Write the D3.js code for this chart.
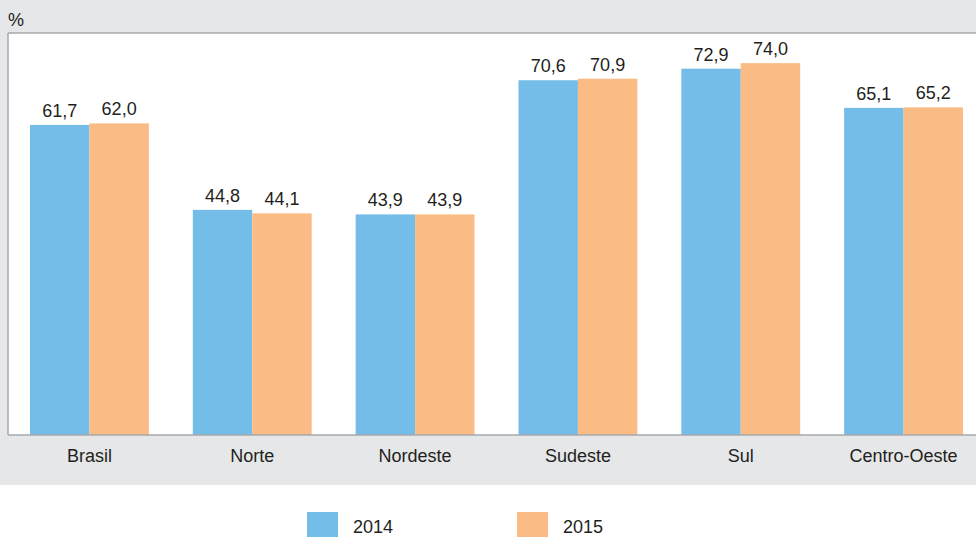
<!DOCTYPE html>
<html>
<head>
<meta charset="utf-8">
<script src="https://cdn.jsdelivr.net/npm/d3@7"></script>
<style>
  body { margin: 0; background: #fff; overflow: hidden; }
  text { font-family: "Liberation Sans", Arial, sans-serif; fill: #231f20; }
</style>
</head>
<body>
<svg class="chart"></svg>
<script>
var regions = ["Brasil", "Norte", "Nordeste", "Sudeste", "Sul", "Centro-Oeste"];
var years = ["2014", "2015"];
var values2014 = [61.7, 44.8, 43.9, 70.6, 72.9, 65.1];
var values2015 = [62.0, 44.1, 43.9, 70.9, 74.0, 65.2];
var colors = ["#74bde8", "#fbbb84"];

var width = 976, height = 537;
var plot = {left: 8, top: 33, bottom: 435, right: 985};
var fontSize = "18px";

var data = regions.map(function(r, i) {
  return {region: r, vals: [values2014[i], values2015[i]]};
});

var svg = d3.select(".chart")
    .attr("width", width)
    .attr("height", height)
    .style("display", "block");

// grey panel
svg.append("rect")
    .attr("x", 0).attr("y", 0)
    .attr("width", width).attr("height", 485)
    .attr("fill", "#e6e7e8");

svg.append("rect")
    .attr("x", plot.left).attr("y", plot.top)
    .attr("width", width - plot.left).attr("height", plot.bottom - plot.top)
    .attr("fill", "#fff");

var x0 = d3.scaleBand()
    .domain(regions)
    .range([plot.left, plot.right])
    .paddingInner(0.27)
    .paddingOuter(0.135);

var x1 = d3.scaleBand()
    .domain(years)
    .range([0, x0.bandwidth()]);

var y = d3.scaleLinear()
    .domain([0, 80])
    .range([plot.bottom, plot.top]);

var fmt = function(v) { return d3.format(".1f")(v).replace(".", ","); };

var group = svg.selectAll("g.grp")
    .data(data)
  .enter().append("g")
    .attr("class", "grp")
    .attr("transform", function(d) { return "translate(" + x0(d.region) + ",0)"; });

group.selectAll("rect")
    .data(function(d) { return d.vals.map(function(v, i) { return {year: years[i], v: v, i: i}; }); })
  .enter().append("rect")
    .attr("x", function(d) { return x1(d.year); })
    .attr("y", function(d) { return y(d.v); })
    .attr("width", x1.bandwidth())
    .attr("height", function(d) { return plot.bottom - y(d.v); })
    .attr("fill", function(d) { return colors[d.i]; });

group.selectAll("text.val")
    .data(function(d) { return d.vals.map(function(v, i) { return {year: years[i], v: v}; }); })
  .enter().append("text")
    .attr("class", "val")
    .attr("x", function(d) { return x1(d.year) + x1.bandwidth() / 2; })
    .attr("y", function(d) { return y(d.v) - 8; })
    .style("text-anchor", "middle")
    .style("font-size", fontSize)
    .text(function(d) { return fmt(d.v); });

// plot frame: left, top, bottom (open on the right)
var frame = [
  [plot.left, plot.top, width, plot.top],
  [plot.left, plot.top, plot.left, plot.bottom],
  [plot.left, plot.bottom, width, plot.bottom]
];
svg.selectAll("line.frame")
    .data(frame)
  .enter().append("line")
    .attr("class", "frame")
    .attr("x1", function(d) { return d[0]; }).attr("y1", function(d) { return d[1]; })
    .attr("x2", function(d) { return d[2]; }).attr("y2", function(d) { return d[3]; })
    .attr("stroke", "#a7a9ac").attr("stroke-width", 1.5);

svg.selectAll("text.cat")
    .data(regions)
  .enter().append("text")
    .attr("class", "cat")
    .attr("x", function(d) { return x0(d) + x0.bandwidth() / 2; })
    .attr("y", 462)
    .style("text-anchor", "middle")
    .style("font-size", fontSize)
    .text(function(d) { return d; });

svg.append("text")
    .attr("x", 8).attr("y", 26)
    .style("font-size", fontSize)
    .text("%");

// legend
var legendX = [307, 517];
var legend = svg.selectAll("g.leg")
    .data(years)
  .enter().append("g")
    .attr("class", "leg")
    .attr("transform", function(d, i) { return "translate(" + legendX[i] + ",512)"; });

legend.append("rect")
    .attr("width", 31).attr("height", 25)
    .attr("fill", function(d, i) { return colors[i]; });

legend.append("text")
    .attr("x", 46).attr("y", 21)
    .style("font-size", fontSize)
    .text(function(d) { return d; });
</script>
</body>
</html>
